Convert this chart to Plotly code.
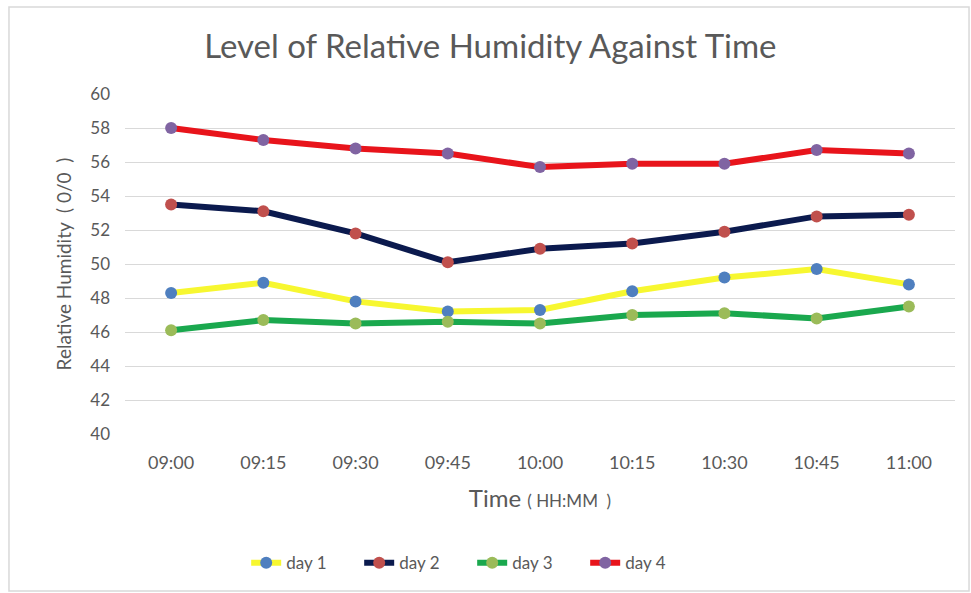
import plotly.graph_objects as go

times = ['09:00', '09:15', '09:30', '09:45', '10:00', '10:15', '10:30', '10:45', '11:00']

day1 = [48.3, 48.9, 47.8, 47.2, 47.3, 48.4, 49.2, 49.7, 48.8]
day2 = [53.5, 53.1, 51.8, 50.1, 50.9, 51.2, 51.9, 52.8, 52.9]
day3 = [46.1, 46.7, 46.5, 46.6, 46.5, 47.0, 47.1, 46.8, 47.5]
day4 = [58.0, 57.3, 56.8, 56.5, 55.7, 55.9, 55.9, 56.7, 56.5]

series = [
    ('day 1', day1, '#F7F730', '#4F7FBF'),
    ('day 2', day2, '#0B1A4E', '#C0504D'),
    ('day 3', day3, '#1AA84E', '#9BBB59'),
    ('day 4', day4, '#E8141B', '#8064A2'),
]

FONT = 'Lato'
GREY = '#595959'

fig = go.Figure()
for name, vals, lcol, mcol in series:
    fig.add_trace(go.Scatter(
        x=times, y=vals, name=name, mode='lines+markers',
        line=dict(color=lcol, width=6),
        marker=dict(color=mcol, size=12, line=dict(width=0)),
    ))

fig.update_layout(
    width=971, height=593,
    paper_bgcolor='white', plot_bgcolor='white',
    margin=dict(l=125, r=16, t=94, b=159),
    font=dict(family=FONT, color=GREY),
    title=dict(text='Level of Relative Humidity Against Time',
               x=0.505, xanchor='center', y=0.922, yanchor='middle',
               font=dict(size=33, color=GREY, family=FONT)),
    showlegend=True,
    legend=dict(orientation='h', x=0.146, xanchor='left', y=-0.38, yanchor='middle',
                font=dict(size=17, color=GREY), tracegroupgap=0,
                entrywidth=68, entrywidthmode='pixels'),
    shapes=[dict(type='rect', xref='paper', yref='paper',
                 x0=-0.1398, x1=1.0169, y0=-0.462, y1=1.256,
                 line=dict(color='#D9D9D9', width=1.5), layer='below')],
)

fig.update_xaxes(
    type='category', range=[-0.5, 8.5], showgrid=False, zeroline=False,
    showline=False, ticks='', tickfont=dict(size=18, color=GREY),
    ticklabelstandoff=16,
    title=dict(text='Time <span style="font-size:17px">( HH:MM  )</span>',
               font=dict(size=24, color=GREY), standoff=18),
)
fig.update_yaxes(
    range=[40, 60], dtick=2, showgrid=True, gridcolor='#D9D9D9', gridwidth=1,
    zeroline=False, showline=False, ticks='', tickfont=dict(size=17, color=GREY),
    ticklabelstandoff=14,
    title=dict(text='Relative Humidity  ( 0/0  )', font=dict(size=19, color=GREY), standoff=13),
)

fig.write_html('out.html', config={'displayModeBar': False},
               post_script="document.body.style.margin='0';")
